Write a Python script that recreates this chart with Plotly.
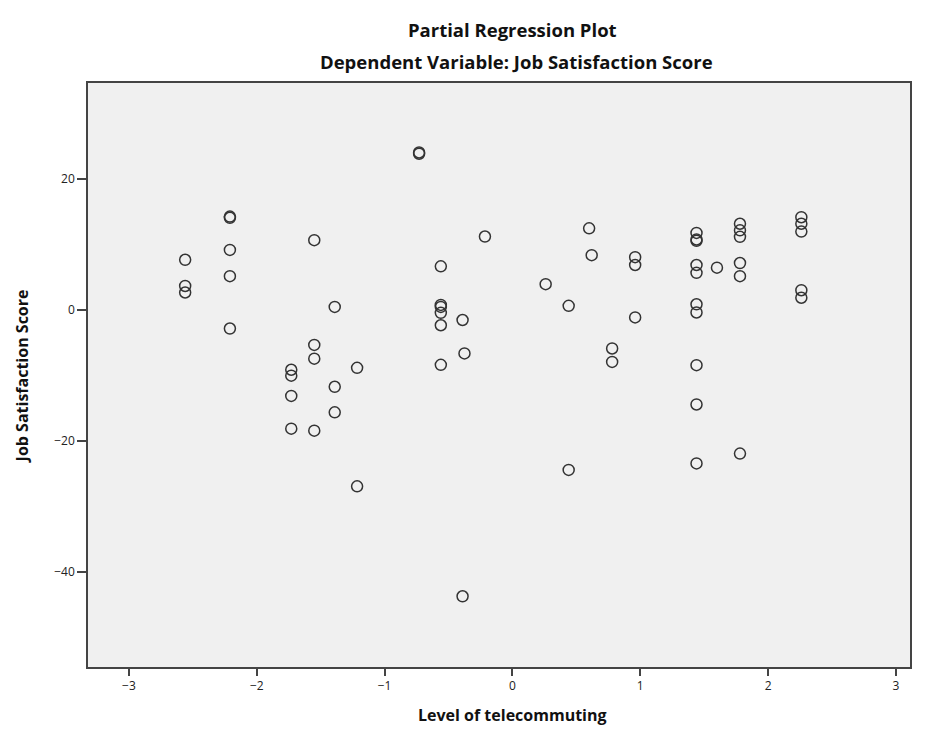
import plotly.graph_objects as go

# Partial regression residuals: level of telecommuting vs job satisfaction score
telecommuting = [
    -2.56, -2.56, -2.56,
    -2.21, -2.21, -2.21, -2.21, -2.21,
    -1.73, -1.73, -1.73, -1.73,
    -1.55, -1.55, -1.55, -1.55,
    -1.39, -1.39, -1.39,
    -1.215, -1.215,
    -0.73, -0.73,
    -0.56, -0.56, -0.56, -0.56, -0.56, -0.56,
    -0.39, -0.375, -0.39,
    -0.215,
    0.26,
    0.44, 0.44,
    0.60, 0.62,
    0.78, 0.78,
    0.96, 0.96, 0.96,
    1.44, 1.44, 1.44, 1.44, 1.44, 1.44, 1.44, 1.44, 1.44, 1.44,
    1.60,
    1.78, 1.78, 1.78, 1.78, 1.78, 1.78,
    2.26, 2.26, 2.26, 2.26, 2.26,
]
job_satisfaction = [
    7.7, 3.7, 2.7,
    14.3, 14.1, 9.2, 5.2, -2.8,
    -9.1, -10.0, -13.1, -18.1,
    10.7, -5.3, -7.4, -18.4,
    0.5, -11.7, -15.6,
    -8.8, -26.9,
    24.1, 23.9,
    6.7, 0.8, 0.5, -0.4, -2.3, -8.35,
    -1.5, -6.6, -43.7,
    11.25,
    3.97,
    0.66, -24.4,
    12.5, 8.4,
    -5.85, -7.9,
    8.1, 6.9, -1.1,
    11.8, 10.8, 10.6, 6.9, 5.7, 0.9, -0.35, -8.4, -14.4, -23.4,
    6.5,
    13.2, 12.2, 11.2, 7.2, 5.2, -21.9,
    14.2, 13.2, 12.0, 3.05, 1.9,
]

x_ticks = [-3, -2, -1, 0, 1, 2, 3]
x_tick_labels = ["\u22123", "\u22122", "\u22121", "0", "1", "2", "3"]
y_ticks = [-40, -20, 0, 20]
y_tick_labels = ["\u221240", "\u221220", "0", "20"]

fig = go.Figure(
    go.Scatter(
        x=telecommuting,
        y=job_satisfaction,
        mode="markers",
        marker=dict(
            symbol="circle-open",
            size=11,
            color="#333333",
            line=dict(width=1.5, color="#333333"),
        ),
        hoverinfo="x+y",
        showlegend=False,
    )
)

tick_font = dict(family="Open Sans, DejaVu Sans, sans-serif", size=12, color="#222222")
title_font = dict(family="Open Sans, DejaVu Sans, sans-serif", size=18.5, color="#111111")
axis_title_font = dict(family="Open Sans, DejaVu Sans, sans-serif", size=16, color="#111111")

axis_style = dict(
    ticks="outside",
    tickwidth=1.5,
    tickcolor="#444444",
    showline=True,
    linecolor="#444444",
    linewidth=1.5,
    mirror=True,
    showgrid=False,
    zeroline=False,
    tickfont=tick_font,
)

fig.update_xaxes(range=[-3.32, 3.11], tickvals=x_ticks, ticktext=x_tick_labels,
                 ticklen=7, **axis_style)
fig.update_yaxes(range=[-54.5, 34.7], tickvals=y_ticks, ticktext=y_tick_labels,
                 ticklen=9, **axis_style)

fig.update_layout(
    width=932,
    height=744,
    margin=dict(l=88, r=22, t=83, b=77),
    paper_bgcolor="white",
    plot_bgcolor="#f0f0f0",
    annotations=[
        dict(text="<b>Partial Regression Plot</b>", x=0.516, y=1.091,
             xref="paper", yref="paper", showarrow=False, font=title_font,
             xanchor="center", yanchor="middle"),
        dict(text="<b>Dependent Variable: Job Satisfaction Score</b>", x=0.521, y=1.036,
             xref="paper", yref="paper", showarrow=False, font=title_font,
             xanchor="center", yanchor="middle"),
        dict(text="<b>Level of telecommuting</b>", x=0.517, y=-0.082,
             xref="paper", yref="paper", showarrow=False, font=axis_title_font,
             xanchor="center", yanchor="middle"),
        dict(text="<b>Job Satisfaction Score</b>", x=-0.080, y=0.498,
             xref="paper", yref="paper", showarrow=False, font=axis_title_font,
             textangle=-90, xanchor="center", yanchor="middle"),
    ],
)

fig.write_html("out.html")
